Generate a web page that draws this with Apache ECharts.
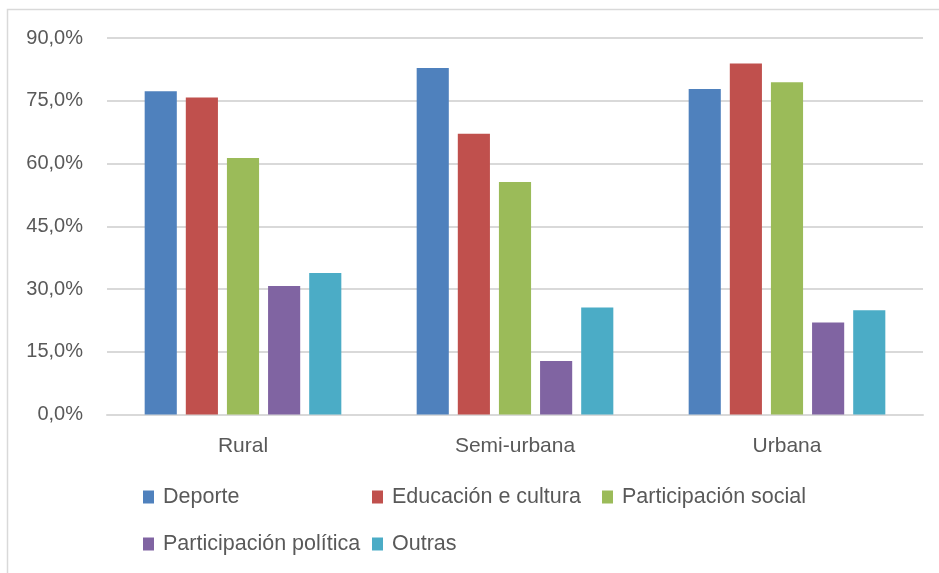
<!DOCTYPE html>
<html>
<head>
<meta charset="utf-8">
<script src="https://cdn.jsdelivr.net/npm/echarts@6/dist/echarts.min.js"></script>
<style>
html,body{margin:0;padding:0;background:#fff;}
#chart{width:939px;height:573px;}
</style>
</head>
<body>
<div id="chart"></div>
<script>
const categories = ['Rural', 'Semi-urbana', 'Urbana'];
const seriesNames = ['Deporte', 'Educación e cultura', 'Participación social', 'Participación política', 'Outras'];
const deporte = [77.3, 82.8, 77.8];
const educacion = [75.8, 67.1, 83.9];
const social = [61.3, 55.6, 79.4];
const politica = [30.7, 12.8, 22.0];
const outras = [33.8, 25.6, 24.9];
const yTicks = [0, 15, 30, 45, 60, 75, 90];

const values = [deporte, educacion, social, politica, outras];
const colors = ['#4F81BD', '#C0504D', '#9BBB59', '#8064A2', '#4BACC6'];
const font = '"Liberation Sans", Arial, sans-serif';
const textColor = '#595959';

const legendPos = [
  {left: 143, top: 486}, {left: 372, top: 486}, {left: 602, top: 486},
  {left: 143, top: 533}, {left: 372, top: 533}
];

const chart = echarts.init(document.getElementById('chart'), null, {renderer: 'canvas'});
chart.setOption({
  animation: false,
  backgroundColor: '#fff',
  textStyle: {fontFamily: font},
  graphic: [{
    type: 'rect',
    shape: {x: 7.5, y: 9.5, width: 1000, height: 1000},
    style: {fill: 'none', stroke: '#D9D9D9', lineWidth: 1.5},
    silent: true
  }],
  grid: {left: 107, right: 16, top: 38, bottom: 158.5, containLabel: false},
  legend: seriesNames.map((n, i) => ({
    data: [n],
    left: legendPos[i].left,
    top: legendPos[i].top,
    itemWidth: 11,
    itemHeight: 13,
    icon: 'rect',
    padding: 0,
    textStyle: {fontFamily: font, fontSize: 21.5, color: textColor, padding: [0, 0, 0, 4]},
    selectedMode: false
  })),
  xAxis: {
    type: 'category',
    data: categories,
    axisLine: {lineStyle: {color: '#D9D9D9', width: 2}},
    axisTick: {show: false},
    axisLabel: {fontFamily: font, fontSize: 21, color: textColor, margin: 21}
  },
  yAxis: {
    type: 'value',
    min: yTicks[0],
    max: yTicks[yTicks.length - 1],
    interval: 15,
    axisLine: {show: false},
    axisTick: {show: false},
    splitLine: {lineStyle: {color: '#D9D9D9', width: 2}},
    axisLabel: {
      fontFamily: font, fontSize: 20, color: textColor, margin: 24,
      formatter: v => v.toFixed(1).replace('.', ',') + '%'
    }
  },
  series: seriesNames.map((n, i) => ({
    name: n,
    type: 'bar',
    data: values[i],
    itemStyle: {color: colors[i]},
    barGap: '28%',
    barCategoryGap: '27.7%'
  }))
});
</script>
</body>
</html>
